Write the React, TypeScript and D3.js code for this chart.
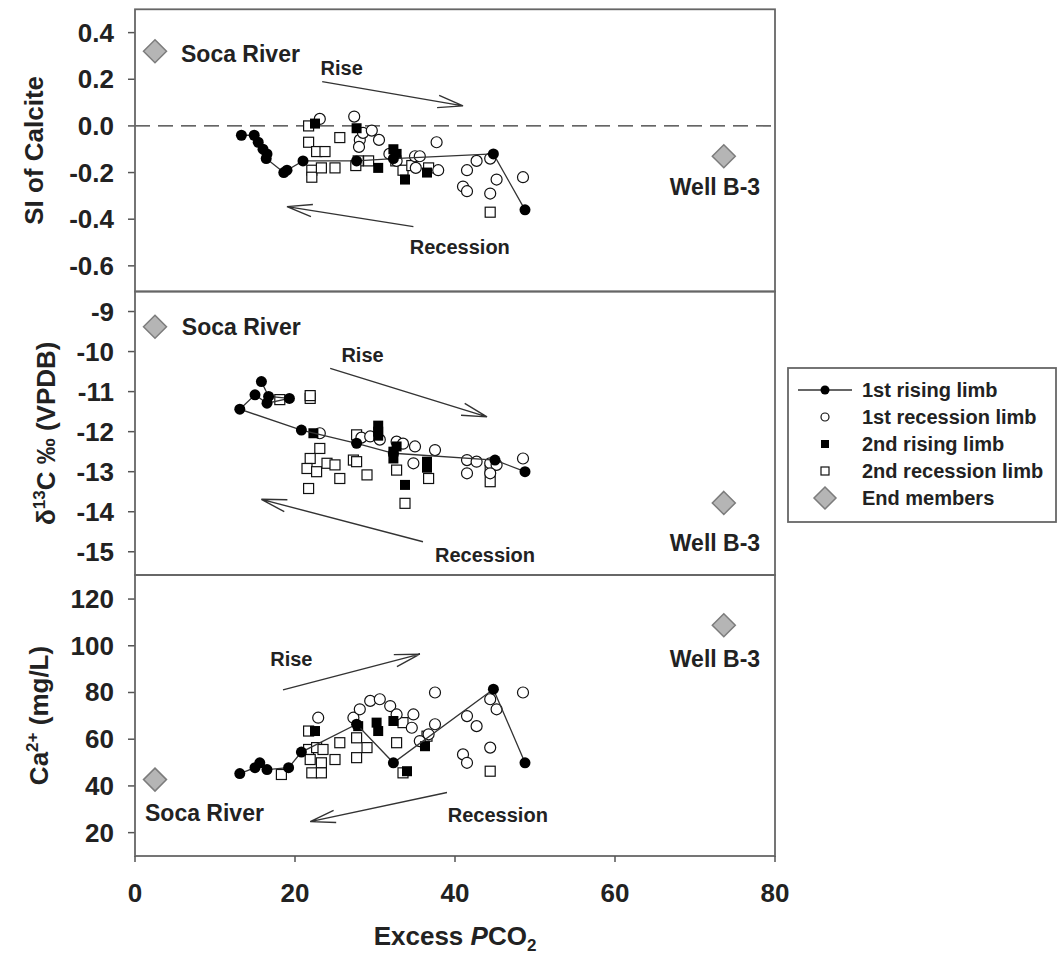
import React from "react";
import { scaleLinear, line } from "d3";

// x axis: excess PCO2
const xTicks = [0, 20, 40, 60, 80];

// ---- SI of calcite panel ----
const siTicks = [0.4, 0.2, 0.0, -0.2, -0.4, -0.6];
const siRise1 = [[13.3, -0.04], [14.9, -0.04], [15.4, -0.07], [16.0, -0.1], [16.5, -0.12], [16.4, -0.14], [18.6, -0.2], [19.0, -0.19], [21.0, -0.15], [27.7, -0.15], [32.3, -0.14], [44.8, -0.12], [48.75, -0.36]];
const siRec1 = [[23.1, 0.03], [27.4, 0.04], [28.1, -0.06], [28.5, -0.03], [29.6, -0.02], [30.5, -0.06], [28.0, -0.09], [31.8, -0.12], [32.7, -0.15], [35.0, -0.13], [35.6, -0.13], [35.1, -0.18], [37.7, -0.07], [37.9, -0.19], [41.5, -0.19], [42.7, -0.15], [44.4, -0.14], [41.0, -0.26], [41.5, -0.28], [45.2, -0.23], [44.4, -0.29], [48.5, -0.22]];
const siRise2 = [[22.5, 0.01], [27.7, -0.01], [30.4, -0.18], [32.3, -0.1], [32.7, -0.12], [33.75, -0.23], [36.5, -0.2]];
const siRec2 = [[21.7, 0.0], [21.7, -0.07], [22.7, -0.11], [23.75, -0.11], [22.1, -0.19], [22.1, -0.22], [23.3, -0.18], [25.0, -0.18], [25.6, -0.05], [27.9, -0.15], [29.2, -0.15], [27.6, -0.17], [32.6, -0.15], [33.5, -0.19], [34.6, -0.17], [36.7, -0.18], [44.4, -0.37]];
const siEnd = [[2.5, 0.32], [73.6, -0.13]];
const siNotes: [string, number, number, string, boolean][] = [["Soca River", 5.75, 0.31, "start", true], ["Rise", 23.2, 0.25, "start", false], ["Recession", 40.6, -0.52, "middle", false], ["Well B-3", 72.5, -0.26, "middle", true]];
const siArrows = [[23.4, 0.19, 41.0, 0.086], [34.8, -0.432, 19.0, -0.346]];

// ---- d13C panel ----
const d13Ticks = [-9, -10, -11, -12, -13, -14, -15];
const d13Rise1 = [[15.8, -10.75], [16.7, -11.12], [19.3, -11.17], [16.5, -11.29], [15.0, -11.08], [13.1, -11.44], [20.8, -11.96], [27.7, -12.29], [32.3, -12.54], [45.0, -12.71], [48.75, -13.0]];
const d13Rec1 = [[23.1, -12.04], [28.3, -12.15], [29.4, -12.12], [30.6, -12.2], [32.7, -12.25], [33.5, -12.3], [35.0, -12.37], [34.8, -12.79], [37.5, -12.46], [41.5, -12.71], [42.7, -12.75], [41.5, -13.04], [44.4, -12.79], [45.2, -12.83], [44.4, -13.04], [48.5, -12.67]];
const d13Rise2 = [[22.3, -12.04], [30.4, -11.85], [30.4, -12.0], [30.4, -12.1], [32.7, -12.37], [32.3, -12.5], [32.3, -12.67], [33.75, -13.33], [36.5, -12.75], [36.5, -12.9]];
const d13Rec2 = [[18.1, -11.2], [21.9, -11.17], [21.9, -11.1], [23.1, -12.42], [21.9, -12.67], [21.5, -12.92], [22.7, -13.0], [24.0, -12.79], [25.0, -12.83], [25.6, -13.17], [21.7, -13.42], [27.3, -12.71], [27.7, -12.75], [29.0, -13.08], [27.7, -12.08], [32.7, -12.96], [33.75, -13.79], [36.7, -13.17], [44.4, -12.96], [44.4, -13.25]];
const d13End = [[2.5, -9.38], [73.6, -13.78]];
const d13Notes: [string, number, number, string, boolean][] = [["Soca River", 5.85, -9.38, "start", true], ["Rise", 25.8, -10.08, "start", false], ["Recession", 37.5, -15.08, "start", false], ["Well B-3", 72.5, -14.78, "middle", true]];
const d13Arrows = [[24.4, -10.42, 44.0, -11.63], [36.0, -14.75, 15.8, -13.69]];

// ---- Ca2+ panel ----
const caTicks = [120, 100, 80, 60, 40, 20];
const caRise1 = [[13.1, 45.3], [15.0, 47.8], [15.6, 49.9], [16.5, 47.0], [19.2, 47.8], [20.8, 54.5], [27.7, 66.4], [32.3, 49.9], [44.8, 81.4], [48.75, 49.9]];
const caRec1 = [[22.9, 69.2], [27.3, 69.2], [28.1, 72.8], [29.4, 76.4], [30.6, 77.1], [31.9, 74.2], [32.7, 70.6], [34.8, 70.6], [34.6, 64.9], [37.5, 80.0], [37.5, 66.4], [35.6, 59.2], [36.7, 62.1], [41.5, 69.9], [42.7, 65.6], [44.4, 77.1], [45.2, 72.8], [41.0, 53.5], [41.5, 49.9], [44.4, 56.4], [48.5, 80.0]];
const caRise2 = [[22.5, 63.5], [27.9, 65.6], [30.2, 67.1], [30.4, 63.5], [32.3, 67.8], [36.25, 57.0], [34.0, 46.3]];
const caRec2 = [[18.3, 44.9], [21.7, 63.5], [21.7, 55.6], [22.7, 56.4], [23.5, 55.6], [21.9, 51.3], [23.3, 49.9], [25.0, 51.3], [25.6, 58.5], [22.1, 45.6], [23.3, 45.6], [27.7, 60.6], [29.0, 56.4], [27.7, 52.1], [32.7, 58.5], [33.5, 67.1], [33.5, 45.6], [36.5, 61.3], [44.4, 46.3]];
const caEnd = [[2.5, 42.7], [73.6, 108.8]];
const caNotes: [string, number, number, string, boolean][] = [["Soca River", 1.25, 28.6, "start", true], ["Rise", 16.9, 94.2, "start", false], ["Recession", 39.1, 27.7, "start", false], ["Well B-3", 72.5, 94.2, "middle", true]];
const caArrows = [[18.5, 81.1, 35.6, 96.4], [39.0, 37.2, 21.9, 24.7]];

const legendItems = ["1st rising limb", "1st recession limb", "2nd rising limb", "2nd recession limb", "End members"];

const FONT = "'Liberation Sans', Arial, sans-serif";
const left = 135;
const right = 775;

const xScale = scaleLinear().domain([0, 80]).range([left, right]);

function arrowPath(x1: number, y1: number, x2: number, y2: number) {
  const a = Math.atan2(y1 - y2, x1 - x2);
  const len = 26, spread = 0.24;
  const b1 = [x2 + len * Math.cos(a + spread), y2 + len * Math.sin(a + spread)];
  const b2 = [x2 + len * Math.cos(a - spread), y2 + len * Math.sin(a - spread)];
  return `M${x1},${y1}L${x2},${y2}M${b1[0]},${b1[1]}L${x2},${y2}L${b2[0]},${b2[1]}`;
}

const Diamond = ({ cx, cy, r }: { cx: number; cy: number; r: number }) => (
  <path d={`M${cx},${cy - r}L${cx + r},${cy}L${cx},${cy + r}L${cx - r},${cy}Z`} fill="#b5b5b5" stroke="#7c7c7c" strokeWidth={1.5} />
);

interface PanelProps {
  top: number;
  bottom: number;
  domain: [number, number];
  ticks: number[];
  fmt: (v: number) => string;
  rise1: number[][];
  rec1: number[][];
  rise2: number[][];
  rec2: number[][];
  ends: number[][];
  notes: [string, number, number, string, boolean][];
  arrows: number[][];
  title: React.ReactNode;
  titleX: number;
  zeroLine?: boolean;
  bottomAxis?: boolean;
}

const Panel: React.FC<PanelProps> = (p) => {
  const y = scaleLinear().domain(p.domain).range([p.bottom, p.top]);
  const path = line<number[]>().x((d) => xScale(d[0])).y((d) => y(d[1]));
  const mid = (p.top + p.bottom) / 2;
  return (
    <g>
      {/* y axis ticks */}
      {p.ticks.map((t) => (
        <g key={t}>
          <line x1={left - 7} x2={left} y1={y(t)} y2={y(t)} stroke="#555" strokeWidth={1.5} />
          <text x={114} y={y(t)} textAnchor="end" dominantBaseline="central" fontFamily={FONT} fontWeight="bold" fontSize={26} fill="#222">
            {p.fmt(t)}
          </text>
        </g>
      ))}
      <text transform={`translate(${p.titleX},${mid}) rotate(-90)`} textAnchor="middle" fontFamily={FONT} fontWeight="bold" fontSize={26} fill="#222">
        {p.title}
      </text>
      {p.zeroLine && (
        <line x1={left} x2={right} y1={y(0)} y2={y(0)} stroke="#333" strokeWidth={1.3} strokeDasharray="15,8" />
      )}
      {p.arrows.map((a, i) => (
        <path key={i} d={arrowPath(xScale(a[0]), y(a[1]), xScale(a[2]), y(a[3]))} fill="none" stroke="#333" strokeWidth={1.4} />
      ))}
      {p.notes.map((n) => (
        <text key={n[0]} x={xScale(n[1])} y={y(n[2])} textAnchor={n[3]} dominantBaseline="central" fontFamily={FONT} fontWeight="bold" fontSize={n[4] ? 23 : 20} fill="#222">
          {n[0]}
        </text>
      ))}
      {p.rec2.map((d, i) => (
        <rect key={"r2" + i} x={xScale(d[0]) - 5} y={y(d[1]) - 5} width={10} height={10} fill="#fff" stroke="#111" strokeWidth={1.2} />
      ))}
      {p.rec1.map((d, i) => (
        <circle key={"r1" + i} cx={xScale(d[0])} cy={y(d[1])} r={5.5} fill="#fff" stroke="#111" strokeWidth={1.2} />
      ))}
      {p.rise2.map((d, i) => (
        <rect key={"s2" + i} x={xScale(d[0]) - 5} y={y(d[1]) - 5} width={10} height={10} fill="#000" />
      ))}
      <path d={path(p.rise1) || ""} fill="none" stroke="#333" strokeWidth={1.3} />
      {p.rise1.map((d, i) => (
        <circle key={"s1" + i} cx={xScale(d[0])} cy={y(d[1])} r={5.5} fill="#000" />
      ))}
      {p.ends.map((d, i) => (
        <Diamond key={"e" + i} cx={xScale(d[0])} cy={y(d[1])} r={11.5} />
      ))}
      <rect x={left} y={p.top} width={right - left} height={p.bottom - p.top} fill="none" stroke="#666" strokeWidth={1.8} />
      {p.bottomAxis &&
        xTicks.map((t) => (
          <g key={"x" + t}>
            <line x1={xScale(t)} x2={xScale(t)} y1={p.bottom} y2={p.bottom + 6} stroke="#555" strokeWidth={1.5} />
            <text x={xScale(t)} y={893} textAnchor="middle" dominantBaseline="central" fontFamily={FONT} fontWeight="bold" fontSize={26} fill="#222">
              {t}
            </text>
          </g>
        ))}
    </g>
  );
};

const Legend = () => {
  const x0 = 788, y0 = 368, w = 268, h = 154;
  const mx = 825, tx = 862;
  const rowY = (i: number) => 390 + i * 27;
  return (
    <g>
      <rect x={x0} y={y0} width={w} height={h} fill="#fff" stroke="#666" strokeWidth={1.8} />
      <line x1={798} x2={852} y1={rowY(0)} y2={rowY(0)} stroke="#333" strokeWidth={1.3} />
      <circle cx={mx} cy={rowY(0)} r={4.5} fill="#000" />
      <circle cx={mx} cy={rowY(1)} r={4} fill="#fff" stroke="#111" strokeWidth={1.2} />
      <rect x={mx - 4} y={rowY(2) - 4} width={8} height={8} fill="#000" />
      <rect x={mx - 4} y={rowY(3) - 4} width={8} height={8} fill="#fff" stroke="#111" strokeWidth={1.2} />
      <Diamond cx={mx} cy={rowY(4)} r={11} />
      {legendItems.map((s, i) => (
        <text key={s} x={tx} y={rowY(i)} dominantBaseline="central" fontFamily={FONT} fontWeight="bold" fontSize={20} fill="#222">
          {s}
        </text>
      ))}
    </g>
  );
};

export default function App() {
  return (
    <svg width={1058} height={960} style={{ position: "absolute", left: 0, top: 0, background: "#fff" }}>
      <Panel
        top={9.3}
        bottom={291.5}
        domain={[-0.71, 0.5]}
        ticks={siTicks}
        fmt={(v) => v.toFixed(1)}
        rise1={siRise1}
        rec1={siRec1}
        rise2={siRise2}
        rec2={siRec2}
        ends={siEnd}
        notes={siNotes}
        arrows={siArrows}
        title="SI of Calcite"
        titleX={43}
        zeroLine
      />
      <Panel
        top={291.5}
        bottom={575}
        domain={[-15.58, -8.5]}
        ticks={d13Ticks}
        fmt={(v) => String(v)}
        rise1={d13Rise1}
        rec1={d13Rec1}
        rise2={d13Rise2}
        rec2={d13Rec2}
        ends={d13End}
        notes={d13Notes}
        arrows={d13Arrows}
        title={
          <>
            δ<tspan dy={-10} fontSize={17}>13</tspan>
            <tspan dy={10}>C ‰ (VPDB)</tspan>
          </>
        }
        titleX={55}
      />
      <Panel
        top={575}
        bottom={856}
        domain={[10, 130.3]}
        ticks={caTicks}
        fmt={(v) => String(v)}
        rise1={caRise1}
        rec1={caRec1}
        rise2={caRise2}
        rec2={caRec2}
        ends={caEnd}
        notes={caNotes}
        arrows={caArrows}
        title={
          <>
            Ca<tspan dy={-10} fontSize={17}>2+</tspan>
            <tspan dy={10}> (mg/L)</tspan>
          </>
        }
        titleX={48}
        bottomAxis
      />
      <text x={455} y={945} textAnchor="middle" fontFamily={FONT} fontWeight="bold" fontSize={26} fill="#222">
        Excess <tspan fontStyle="italic">P</tspan>CO<tspan dy={6} fontSize={17}>2</tspan>
      </text>
      <Legend />
    </svg>
  );
}
